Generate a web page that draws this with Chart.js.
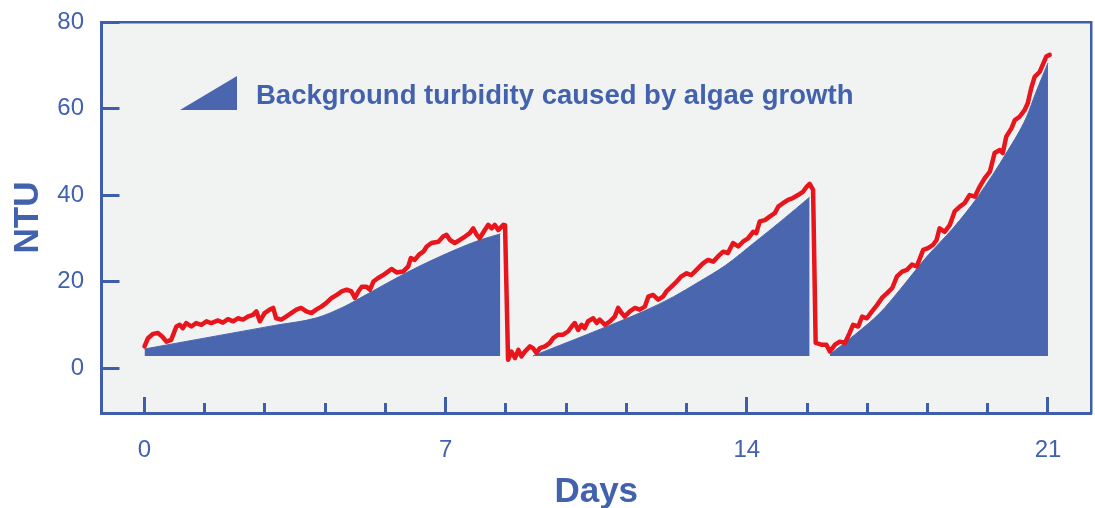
<!DOCTYPE html>
<html>
<head>
<meta charset="utf-8">
<script src="https://cdn.jsdelivr.net/npm/chart.js@4.4.1/dist/chart.umd.min.js"></script>
<style>
html,body{margin:0;padding:0;background:#ffffff;}
canvas{display:block;}
</style>
</head>
<body>
<canvas id="c" width="1095" height="508"></canvas>
<script>
// ---- Data ----
const redDays = [0.0,0.08,0.2,0.31,0.41,0.51,0.62,0.74,0.82,0.89,0.97,1.09,1.2,1.32,1.44,1.55,1.71,1.82,1.94,2.06,2.17,2.29,2.4,2.52,2.6,2.68,2.79,2.91,2.99,3.06,3.18,3.29,3.41,3.53,3.64,3.76,3.88,3.99,4.11,4.22,4.35,4.47,4.58,4.7,4.81,4.89,4.97,5.05,5.16,5.24,5.32,5.43,5.55,5.66,5.74,5.86,6.01,6.13,6.19,6.28,6.38,6.48,6.56,6.67,6.83,6.94,7.02,7.1,7.21,7.33,7.45,7.56,7.64,7.72,7.79,7.91,7.99,8.07,8.14,8.22,8.34,8.38,8.45,8.53,8.61,8.69,8.76,8.84,8.96,9.03,9.11,9.19,9.31,9.42,9.5,9.61,9.73,9.85,9.93,10.0,10.08,10.16,10.23,10.31,10.43,10.51,10.58,10.7,10.82,10.93,11.01,11.09,11.16,11.28,11.4,11.51,11.63,11.71,11.82,11.94,12.05,12.13,12.25,12.37,12.48,12.6,12.71,12.83,12.91,12.98,13.1,13.22,13.33,13.45,13.56,13.68,13.8,13.91,14.03,14.15,14.22,14.3,14.42,14.53,14.65,14.73,14.84,14.96,15.07,15.19,15.31,15.39,15.46,15.54,15.6,15.73,15.85,15.93,16.05,16.16,16.28,16.39,16.47,16.59,16.68,16.79,16.91,17.03,17.14,17.26,17.38,17.49,17.61,17.72,17.84,17.95,18.1,18.21,18.33,18.41,18.48,18.6,18.72,18.83,18.95,19.06,19.18,19.3,19.41,19.53,19.65,19.76,19.88,19.95,20.03,20.15,20.23,20.34,20.46,20.53,20.61,20.69,20.81,20.89,20.96,21.04];
const redNTU = [5.0,6.9,7.9,8.1,7.3,6.1,6.5,9.6,10,9.2,10.4,9.6,10.4,10,10.8,10.4,11,10.5,11.3,10.8,11.5,11.2,11.9,12.3,13.1,10.8,12.7,13.5,13.9,11.5,11.2,11.9,12.7,13.5,13.9,13.1,12.7,13.5,14.2,15,16.2,16.9,17.7,18.1,17.7,16.2,17.7,18.8,18.8,18.1,20,20.8,21.5,22.3,22.9,22.1,22.3,23.5,25.4,25,26.2,26.9,28.1,28.9,29.2,30.4,30.8,29.6,28.9,29.6,30.4,31.2,32.3,30.8,30,31.9,33.1,32.3,33.1,31.9,33.1,33.0,1.9,3.8,2.3,4.2,2.7,3.8,5,4.6,3.5,4.6,5,5.8,6.9,7.7,7.7,8.5,9.6,10.4,8.8,10,9.2,10.8,11.5,10.4,11.2,10,10.8,11.9,13.9,12.7,11.9,13.1,13.9,13.5,14.2,16.5,16.9,15.8,16.5,17.7,18.8,20,21.2,21.9,21.5,22.7,23.5,24.2,25,24.6,25.8,26.9,26.6,28.9,28.1,29.2,30,31.5,31.2,33.9,34.2,35,35.8,37.3,38.1,38.9,39.3,40,40.8,41.9,42.6,41.2,5.8,5.4,5.4,3.8,5.4,6.1,5.8,8.1,10,9.6,11.9,11.5,13.1,14.6,16.2,17.3,18.5,21.2,22.3,22.7,23.9,23.5,27.3,27.7,28.5,29.6,32.3,31.5,33.1,36.2,37.3,38.1,40,39.6,41.9,43.9,45.4,49.7,50.4,49.7,53.5,55.4,57.3,58.1,59.7,61.2,64.7,67.3,68.5,70.4,72,72.4];

const algae1Days = [0, 1, 2, 3, 4, 4.6, 5.2, 6.1, 7.1, 7.8, 8.27];
const algae1NTU  = [4.4, 6.2, 8.0, 9.8, 11.6, 14.0, 17.2, 22.1, 26.8, 29.6, 31.0];
const algae2Days = [9.03, 10, 11, 11.6, 12.3, 12.9, 13.5, 14.2, 14.8, 15.46];
const algae2NTU  = [2.8, 6.6, 10.6, 13.1, 16.5, 20.0, 23.7, 29.2, 34.0, 39.5];
const algae3Days = [15.93, 16.56, 17.09, 17.55, 18.17, 18.8, 19.37, 20.05, 20.5, 20.73, 21.0];
const algae3NTU  = [3.1, 8.1, 12.7, 18.0, 25.6, 32.4, 39.6, 50.0, 58.0, 64.0, 70.5];
const algaeBase = 2.8;

const yTickValues = [0, 20, 40, 60, 80];
const xMajorTickValues = [0, 7, 14, 21];
const xMinorTickValues = [1.4, 2.8, 4.2, 5.6, 8.4, 9.8, 11.2, 12.6, 15.4, 16.8, 18.2, 19.6];
const xTitleText = 'Days';
const yTitleText = 'NTU';
const legendText = 'Background turbidity caused by algae growth';

// ---- Styles ----
const AXIS = '#3e5eab';
const TEXT = '#4262ae';
const FILL = '#4966ae';
const RED = '#e8161c';
const PLOT_BG = '#f1f2f2';
const FONT = "'Liberation Sans', Arial, Helvetica, sans-serif";

const toPts = (xs, ys) => xs.map((x, i) => ({x: x, y: ys[i]}));
const noPad = s => { s.paddingTop = 0; s.paddingBottom = 0; s.paddingLeft = 0; s.paddingRight = 0; };

const plotBackground = {
  id: 'plotBackground',
  beforeDraw(chart) {
    const {ctx, chartArea: a} = chart;
    ctx.save();
    ctx.fillStyle = PLOT_BG;
    ctx.fillRect(a.left, a.top, a.right - a.left, a.bottom - a.top);
    ctx.restore();
  }
};

const areaLegend = {
  id: 'areaLegend',
  afterDatasetsDraw(chart) {
    const ctx = chart.ctx;
    ctx.save();
    ctx.fillStyle = FILL;
    ctx.beginPath();
    ctx.moveTo(180, 110);
    ctx.lineTo(237, 110);
    ctx.lineTo(237, 76);
    ctx.closePath();
    ctx.fill();
    ctx.fillStyle = TEXT;
    ctx.font = "bold 27.5px " + FONT;
    ctx.textBaseline = 'alphabetic';
    ctx.textAlign = 'left';
    ctx.fillText(legendText, 256, 104);
    ctx.restore();
  }
};

new Chart(document.getElementById('c'), {
  type: 'line',
  data: {
    datasets: [
      {
        label: 'Turbidity',
        data: toPts(redDays, redNTU),
        borderColor: RED,
        borderWidth: 4.5,
        borderJoinStyle: 'round',
        borderCapStyle: 'round',
        pointRadius: 0,
        fill: false,
        tension: 0
      },
      {
        label: 'Algae 1',
        data: toPts(algae1Days, algae1NTU),
        borderColor: FILL, borderWidth: 1,
        backgroundColor: FILL,
        pointRadius: 0,
        fill: {value: algaeBase},
        cubicInterpolationMode: 'monotone'
      },
      {
        label: 'Algae 2',
        data: toPts(algae2Days, algae2NTU),
        borderColor: FILL, borderWidth: 1,
        backgroundColor: FILL,
        pointRadius: 0,
        fill: {value: algaeBase},
        cubicInterpolationMode: 'monotone'
      },
      {
        label: 'Algae 3',
        data: toPts(algae3Days, algae3NTU),
        borderColor: FILL, borderWidth: 1,
        backgroundColor: FILL,
        pointRadius: 0,
        fill: {value: algaeBase},
        cubicInterpolationMode: 'monotone'
      }
    ]
  },
  options: {
    responsive: false,
    animation: false,
    devicePixelRatio: 1,
    layout: {padding: {left: 0, top: 22, right: 4, bottom: 0}},
    plugins: {legend: {display: false}, tooltip: {enabled: false}},
    scales: {
      x: {
        type: 'linear', position: 'bottom', min: -1, max: 22, weight: 1,
        afterBuildTicks: s => { s.ticks = xMajorTickValues.map(v => ({value: v})); },
        afterFit: s => { s.height = 95; noPad(s); },
        grid: {display: true, drawOnChartArea: false, drawTicks: true, tickLength: -16, tickWidth: 3, tickColor: AXIS},
        border: {display: true, color: AXIS, width: 3},
        ticks: {color: TEXT, font: {family: FONT, size: 24}, padding: 38.5, maxRotation: 0, autoSkip: false},
        title: {display: true, text: xTitleText, color: TEXT, font: {family: FONT, size: 35, weight: 'bold', lineHeight: 1}, padding: {top: 0, bottom: -2}}
      },
      xMinor: {
        type: 'linear', position: 'bottom', min: -1, max: 22, weight: -1,
        afterBuildTicks: s => { s.ticks = xMinorTickValues.map(v => ({value: v})); },
        afterFit: s => { s.height = 0; noPad(s); },
        grid: {display: true, drawOnChartArea: false, drawTicks: true, tickLength: -10, tickWidth: 3, tickColor: AXIS},
        border: {display: false},
        ticks: {display: false}
      },
      xTop: {
        type: 'linear', position: 'top', min: -1, max: 22,
        afterFit: s => { s.height = 0; noPad(s); },
        grid: {display: false},
        border: {display: true, color: AXIS, width: 2.5},
        ticks: {display: false}
      },
      y: {
        type: 'linear', position: 'left', min: -10.4, max: 80,
        afterBuildTicks: s => { s.ticks = yTickValues.map(v => ({value: v})); },
        afterFit: s => { s.width = 101.5; noPad(s); },
        grid: {display: true, drawOnChartArea: false, drawTicks: true, tickLength: -18, tickWidth: 3, tickColor: AXIS},
        border: {display: true, color: AXIS, width: 3},
        ticks: {color: TEXT, font: {family: FONT, size: 24}, padding: 35.5},
        title: {display: true, text: yTitleText, color: TEXT, font: {family: FONT, size: 35, weight: 'bold', lineHeight: 1}, padding: {top: 10.5, bottom: 0}}
      },
      yRight: {
        type: 'linear', position: 'right', min: -10.4, max: 80,
        afterFit: s => { s.width = 0; noPad(s); },
        grid: {display: false},
        border: {display: true, color: AXIS, width: 2.5},
        ticks: {display: false}
      }
    }
  },
  plugins: [plotBackground, areaLegend]
});
</script>
</body>
</html>
